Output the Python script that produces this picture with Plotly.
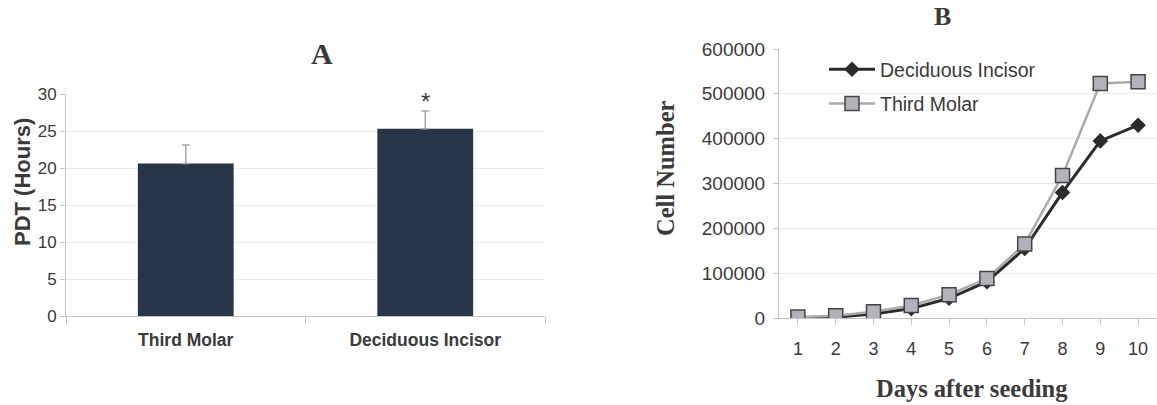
import plotly.graph_objects as go

# Panel A data
categories_a = ["Third Molar", "Deciduous Incisor"]
pdt_hours = [20.6, 25.3]
pdt_err = [2.5, 2.4]

# Panel B data
days = [1, 2, 3, 4, 5, 6, 7, 8, 9, 10]
deciduous_incisor = [0, 2000, 9000, 21000, 44000, 81000, 155000, 280000, 395000, 430000]
third_molar = [2000, 5000, 14000, 28000, 52000, 88000, 165000, 318000, 523000, 527000]

W, H = 1157, 405
fig = go.Figure()

fig.add_trace(go.Bar(
    x=categories_a, y=pdt_hours, xaxis="x", yaxis="y",
    marker=dict(color="#263646", line=dict(width=0)),
    error_y=dict(type="data", array=pdt_err, arrayminus=[0, 0], symmetric=False,
                 color="#a8a8a8", thickness=1.5, width=4),
    width=0.4, showlegend=False,
))

fig.add_trace(go.Scatter(
    x=days, y=deciduous_incisor, xaxis="x2", yaxis="y2", mode="lines+markers",
    name="Deciduous Incisor", legendgroup="g1",
    line=dict(color="#2b2b2b", width=3),
    marker=dict(symbol="diamond", size=12, color="#2b2b2b", line=dict(width=0)),
))
fig.add_trace(go.Scatter(
    x=days, y=third_molar, xaxis="x2", yaxis="y2", mode="lines+markers",
    name="Third Molar", legendgroup="g2",
    line=dict(color="#ababab", width=2.5),
    marker=dict(symbol="square", size=14, color="#b2b2ba", line=dict(color="#444444", width=1.5)),
))

def py(pix):
    return 1 - pix / H

def px(pix):
    return pix / W

txt = "#3a3a3a"
grid = "#ebebeb"
axl = "#c4c4c4"

fig.update_layout(
    template="none",
    width=W, height=H, margin=dict(l=0, r=0, t=0, b=0, autoexpand=False),
    paper_bgcolor="white", plot_bgcolor="white",
    xaxis=dict(domain=[px(66), px(545)], range=[-0.5, 1.5], showgrid=False, automargin=False,
               showline=True, linecolor=axl, linewidth=1,
               ticks="outside", ticklen=7, tickcolor=axl, tickson="boundaries",
               ticklabelstandoff=8,
               tickfont=dict(family="Liberation Sans, Arial", size=17.5, color=txt, weight="bold"),
               anchor="y"),
    yaxis=dict(domain=[py(316), py(94)], range=[0, 30], dtick=5, automargin=False,
               showgrid=True, gridcolor=grid, showline=True, linecolor=axl,
               ticks="outside", ticklen=5, tickcolor=axl,
               tickfont=dict(family="Liberation Sans, Arial", size=17, color=txt),
               zeroline=False, anchor="x"),
    xaxis2=dict(domain=[px(779), 1.0], range=[0.5, 10.5], tickvals=days, automargin=False,
                showgrid=False, showline=True, linecolor=axl,
                ticks="outside", ticklen=6, tickcolor=axl, tickson="boundaries",
                ticklabelstandoff=8,
                tickfont=dict(family="Liberation Sans, Arial", size=18, color=txt),
                anchor="y2"),
    yaxis2=dict(domain=[py(318), py(49)], range=[0, 600000], dtick=100000, automargin=False,
                showgrid=True, gridcolor=grid, showline=True, linecolor=axl,
                ticks="outside", ticklen=5, tickcolor=axl, zeroline=False,
                ticklabelstandoff=4,
                tickformat="d", tickfont=dict(family="Liberation Sans, Arial", size=19, color=txt),
                anchor="x2"),
    legend=dict(x=px(824), y=py(50), xanchor="left", yanchor="top",
                bgcolor="rgba(255,255,255,0)", font=dict(family="Liberation Sans, Arial", size=19.5, color=txt),
                itemwidth=46, tracegroupgap=6, traceorder="grouped"),
    annotations=[
        dict(text="<b>A</b>", x=px(309), y=py(53), xref="paper", yref="paper", yanchor="middle",
             showarrow=False, font=dict(family="Liberation Serif, Times New Roman", size=30, color=txt)),
        dict(text="<b>B</b>", x=px(953), y=py(17), xref="paper", yref="paper", yanchor="middle",
             showarrow=False, font=dict(family="Liberation Serif, Times New Roman", size=26, color=txt)),
        dict(text="*", x="Deciduous Incisor", y=29.0, xref="x", yref="y", yanchor="middle",
             showarrow=False, font=dict(family="Liberation Sans, Arial", size=24, color=txt)),
        dict(text="<b>PDT (Hours)</b>", x=px(22), y=py(182), xref="paper", yref="paper",
             textangle=-90, showarrow=False, xanchor="center", yanchor="middle",
             font=dict(family="Liberation Sans, Arial", size=22, color=txt)),
        dict(text="<b>Cell Number</b>", x=px(666), y=py(168), xref="paper", yref="paper",
             textangle=-90, showarrow=False, xanchor="center", yanchor="middle",
             font=dict(family="Liberation Serif, Times New Roman", size=24.5, color=txt)),
        dict(text="<b>Days after seeding</b>", x=px(972), y=py(388), xref="paper", yref="paper",
             showarrow=False, xanchor="center", yanchor="middle",
             font=dict(family="Liberation Serif, Times New Roman", size=24.5, color=txt)),
    ],
)

fig.write_html("out.html")
